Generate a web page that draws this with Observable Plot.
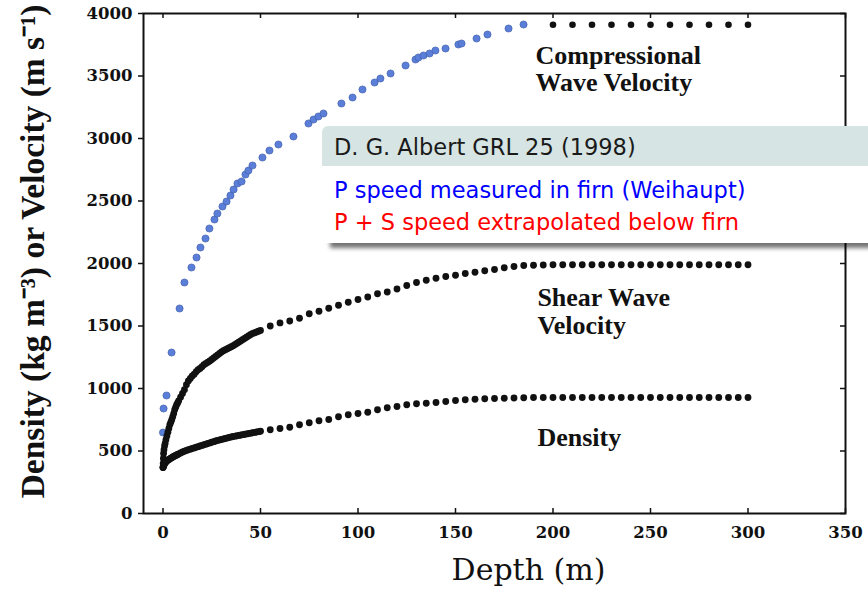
<!DOCTYPE html>
<html>
<head>
<meta charset="utf-8">
<script src="https://cdn.jsdelivr.net/npm/d3@7"></script>
<script src="https://cdn.jsdelivr.net/npm/@observablehq/plot@0.6"></script>
<style>
  body { margin: 0; background: #fff; }
  #wrap { position: relative; width: 868px; height: 598px; overflow: hidden; background: #fff; }
  #wrap svg { position: absolute; left: 0; top: 0; }
  #block { position: absolute; left: 322px; top: 126px; width: 620px; height: 117px; background: #fff;
           border-radius: 6px 0 0 0; box-shadow: 7px 6px 4px -1px rgba(0,0,0,0.55); }
  #head { position: absolute; left: 0; top: 0; right: 0; height: 40px; background: #d6e4e3; border-radius: 6px 0 0 0; }
  .line { position: absolute; left: 12px; font-family: "DejaVu Sans", sans-serif; font-size: 22.5px;
          line-height: 22.5px; white-space: nowrap; }
</style>
</head>
<body>
<div id="wrap">
  <div id="block">
    <div id="head"></div>
    <div class="line" id="t0" style="top:10px;color:#1a1a1a"></div>
    <div class="line" id="t1" style="top:53px;color:#0000ff"></div>
    <div class="line" id="t2" style="top:85px;color:#ff0000"></div>
  </div>
</div>
<script>
// ---- data ----
const xTicks = [0, 50, 100, 150, 200, 250, 300, 350];
const yTicks = [0, 500, 1000, 1500, 2000, 2500, 3000, 3500, 4000];

// Weihaupt P-wave speed measured in firn (blue)
const pDepth = [0,0.3,1.8,4.4,8.5,11,14.6,17.2,19.2,21.8,23.8,26.4,27.9,30.5,32.6,34.6,36.2,38.2,40.3,42.3,43.8,45.9,51,54.6,59.2,66.9,74.6,77.2,79.7,82.3,91.5,97.2,102.3,108.5,111.5,116.7,124.4,129.5,131,133.6,136.7,139.7,144.9,151.5,153.1,160.8,166.4,177.2,184.9];
const pSpeed = [648,840,944,1288,1640,1848,1968,2048,2128,2200,2280,2352,2400,2456,2496,2544,2592,2640,2656,2712,2744,2784,2848,2904,2952,3016,3120,3152,3176,3200,3280,3328,3392,3448,3480,3520,3584,3632,3648,3664,3680,3704,3720,3752,3760,3800,3832,3880,3912];

// Compressional wave velocity extrapolated below firn (black)
const cDepth = [200,210,220,230,240,250,260,270,280,290,300];
const cSpeed = [3910,3910,3910,3910,3910,3910,3910,3910,3910,3910,3910];

// Depths for shear wave velocity and density curves
const depths = [0,0.1,0.2,0.3,0.5,0.8,1.1,1.5,2,2.5,3,3.5,4,4.5,5,5.5,6,6.5,7,7.5,8,
  9,10,11,12,13,14,15,16,17,18,19,20,21,22,23,24,25,26,27,28,29,30,31,32,33,34,35,36,37,38,39,40,41,42,43,44,45,46,47,48,49,50,
  55,60,65,70,75,80,85,90,95,100,105,110,115,120,125,130,135,140,145,150,155,160,165,170,175,180,185,190,195,
  200,205,210,215,220,225,230,235,240,245,250,255,260,265,270,275,280,285,290,295,300];

const shearVel = [368,400,440,480,510,540,560,590,620,650,680,710,730,750,775,800,830,850,870,885,900,
  930,960,990,1030,1060,1080,1100,1115,1135,1150,1160,1175,1190,1200,1210,1220,1232,1244,1256,1268,1280,1292,1302,1310,1318,1326,1334,1342,1352,1362,1372,1382,1392,1402,1412,1422,1432,1440,1446,1452,1458,1465,
  1500,1525,1540,1562,1598,1618,1642,1666,1690,1712,1732,1758,1772,1796,1824,1848,1866,1882,1896,1906,1920,1930,1942,1952,1966,1976,1984,1986,1988,
  1990,1990,1990,1990,1990,1990,1990,1990,1990,1990,1990,1990,1990,1990,1990,1990,1990,1990,1990,1990,1990];

const density = [368,372,378,382,390,397,404,412,420,426,432,437,442,447,452,456,460,464,468,472,476,
  484,492,498,504,510,515,520,525,530,535,540,545,550,555,560,565,570,575,580,585,589,593,597,601,605,609,613,616,619,622,625,628,631,634,637,640,643,646,649,652,655,658,
  670,680,690,710,726,742,752,774,790,800,810,830,846,856,870,878,882,888,896,904,910,914,918,920,922,924,926,928,928,
  928,928,928,928,928,928,928,928,928,928,928,928,928,928,928,928,928,928,928,928,928];

const curveLabels = ["Compressional", "Wave Velocity", "Shear Wave", "Velocity", "Density"];
const xTitle = "Depth (m)";
const yTitle = "Density (kg m\u207B\u00B3) or Velocity (m s\u207B\u00B9)";
const blockTitle = "D. G. Albert GRL 25 (1998)";
const blockLines = ["P speed measured in firn (Weihaupt)", "P + S speed extrapolated below firn"];

// ---- tables ----
const pData = pDepth.map((d, i) => ({depth: d, v: pSpeed[i]}));
const cData = cDepth.map((d, i) => ({depth: d, v: cSpeed[i]}));
const sData = depths.map((d, i) => ({depth: d, v: shearVel[i]}));
const dData = depths.map((d, i) => ({depth: d, v: density[i]}));

const serif = "DejaVu Serif, serif";
const times = "Liberation Serif, serif";
const labelStyle = {fontFamily: times, fontSize: 26, fontWeight: "bold", fill: "#111", textAnchor: "start", lineAnchor: "middle"};

const chart = Plot.plot({
  width: 868,
  height: 598,
  marginLeft: 143,
  marginRight: 23,
  marginTop: 13,
  marginBottom: 85,
  x: {domain: [-10, 350]},
  y: {domain: [0, 4000]},
  style: {background: "transparent", fontFamily: serif, color: "#111"},
  marks: [
    Plot.dot(pData, {x: "depth", y: "v", r: 3.6, fill: "#5b7fd9", stroke: "#3d5aa5", strokeWidth: 0.6}),
    Plot.dot(sData, {x: "depth", y: "v", r: 3.4, fill: "#111", stroke: "none"}),
    Plot.dot(dData, {x: "depth", y: "v", r: 3.4, fill: "#111", stroke: "none"}),
    Plot.dot(cData, {x: "depth", y: "v", r: 3.3, fill: "#111", stroke: "none"}),
    Plot.frame({stroke: "#111", strokeWidth: 2}),
    Plot.axisY(yTicks, {anchor: "left", tickSize: 5, tickPadding: 6, strokeWidth: 1.5, fontSize: 16.5, fontWeight: "bold",
      fontFamily: serif, tickFormat: d => String(d), label: null}),
    Plot.axisX(xTicks, {anchor: "bottom", tickSize: 0, tickPadding: 13, fontSize: 16.5, fontWeight: "bold",
      fontFamily: serif, tickFormat: d => String(d), label: null}),
    Plot.tickX(xTicks, {x: d => d, insetTop: 495, stroke: "#111", strokeWidth: 1.5}),
    Plot.tickX(xTicks, {x: d => d, insetBottom: 495, stroke: "#111", strokeWidth: 1.5}),
    Plot.tickY(yTicks, {y: d => d, insetLeft: 697, stroke: "#111", strokeWidth: 1.5}),
    Plot.text([curveLabels[0]], {x: 191, y: 3664, text: d => d, ...labelStyle}),
    Plot.text([curveLabels[1]], {x: 191, y: 3448, text: d => d, ...labelStyle}),
    Plot.text([curveLabels[2]], {x: 192, y: 1728, text: d => d, ...labelStyle}),
    Plot.text([curveLabels[3]], {x: 192, y: 1504, text: d => d, ...labelStyle}),
    Plot.text([curveLabels[4]], {x: 192, y: 608, text: d => d, ...labelStyle}),
    Plot.text([xTitle], {frameAnchor: "bottom", text: d => d, dx: 34, dy: 66, fontSize: 30, fontFamily: serif, fill: "#111"}),
    Plot.text([yTitle], {frameAnchor: "left", textAnchor: "middle", lineAnchor: "middle", text: d => d, dx: -110, dy: -12, rotate: -90,
      fontSize: 33.5, fontWeight: "bold", fontFamily: times, fill: "#111"})
  ]
});

document.getElementById("wrap").insertBefore(chart, document.getElementById("block"));
document.getElementById("t0").textContent = blockTitle;
document.getElementById("t1").textContent = blockLines[0];
document.getElementById("t2").textContent = blockLines[1];
</script>
</body>
</html>
